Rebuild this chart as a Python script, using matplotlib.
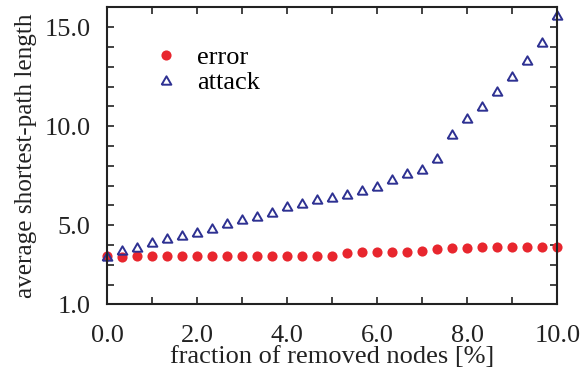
import numpy as np
import matplotlib
matplotlib.use('Agg')
import matplotlib.pyplot as plt
from matplotlib.ticker import MultipleLocator

# fraction of removed nodes [%], 31 points every 1/3 %
frac = [k / 3 for k in range(31)]

error_len = [3.45, 3.42, 3.44, 3.44, 3.44, 3.44, 3.44, 3.44, 3.46, 3.46,
             3.46, 3.46, 3.46, 3.46, 3.46, 3.46, 3.62, 3.63, 3.64, 3.64,
             3.65, 3.72, 3.80, 3.84, 3.85, 3.88, 3.88, 3.89, 3.89, 3.90, 3.92]

attack_len = [3.44, 3.75, 3.92, 4.14, 4.34, 4.51, 4.68, 4.86, 5.10, 5.30,
              5.47, 5.69, 5.99, 6.11, 6.33, 6.45, 6.58, 6.79, 7.00, 7.33,
              7.66, 7.85, 8.39, 9.61, 10.42, 11.04, 11.77, 12.56, 13.37, 14.25, 15.63]

y_ticks = [1.0, 5.0, 10.0, 15.0]
x_ticks = [0.0, 2.0, 4.0, 6.0, 8.0, 10.0]

plt.rcParams['font.family'] = ['Liberation Serif', 'DejaVu Serif']

red = '#E8262E'
blue = '#2E3192'
tri = [(-1, -0.866), (1, -0.866), (0, 0.866), (-1, -0.866)]

fig = plt.figure(figsize=(5.83, 3.72), dpi=100)
ax = fig.add_axes([0.1835, 0.1815, 0.7725, 0.7985])

ax.plot(frac, error_len, linestyle='none', marker='o', ms=7.3, color=red,
        markeredgewidth=0, label='error', clip_on=False)
ax.plot(frac, attack_len, linestyle='none', marker=tri, ms=7.0, markerfacecolor='none',
        markeredgecolor=blue, markeredgewidth=1.4, label='attack', clip_on=False)

ax.set_xlim(0, 10)
ax.set_ylim(1, 16)
ax.set_xticks(x_ticks)
ax.set_xticklabels(['%.1f' % v for v in x_ticks])
ax.set_yticks(y_ticks)
ax.set_yticklabels(['%.1f' % v for v in y_ticks])
ax.xaxis.set_minor_locator(MultipleLocator(1))
ax.yaxis.set_minor_locator(MultipleLocator(1))
ax.tick_params(which='both', direction='in', top=True, right=True, length=5, width=1.2,
               labelsize=19, colors='#222222')
ax.tick_params(axis='x', pad=15)
ax.tick_params(axis='y', pad=12)
for s in ax.spines.values():
    s.set_linewidth(1.5)
    s.set_color('#222222')

ax.set_xlabel('fraction of removed nodes [%]', fontsize=19, color='#222222', labelpad=-1)
ax.set_ylabel('average shortest-path length', fontsize=18.2, color='#222222', labelpad=5)

ax.legend(loc='upper left', bbox_to_anchor=(0.072, 0.906), frameon=False, fontsize=19,
          handletextpad=0.6, labelspacing=0.05, handlelength=1.2, borderaxespad=0)

fig.savefig('out.png', dpi=100)
